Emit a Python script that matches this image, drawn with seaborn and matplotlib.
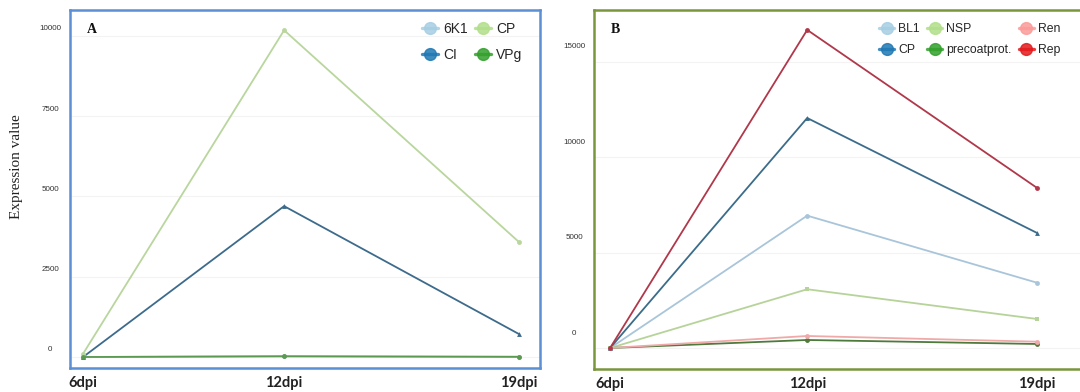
import matplotlib
matplotlib.use("Agg")
import matplotlib.pyplot as plt
import matplotlib.transforms as mtransforms
from matplotlib.lines import Line2D
import seaborn as sns
import pandas as pd

# Sampling days post inoculation
days = [6, 12, 19]
day_labels = ["6dpi", "12dpi", "19dpi"]

# Panel A: potyvirus proteins
a_6k1 = [0, 30, 10]
a_ci = [0, 4700, 720]
a_cp = [100, 10180, 3590]
a_vpg = [0, 20, 5]

# Panel B: geminivirus / satellite proteins
b_bl1 = [0, 6940, 3420]
b_cp = [0, 12060, 6030]
b_nsp = [0, 3080, 1520]
b_precoat = [0, 420, 210]
b_ren = [0, 630, 330]
b_rep = [0, 16680, 8390]

a_series = {"6K1": a_6k1, "CI": a_ci, "CP": a_cp, "VPg": a_vpg}
b_series = {"BL1": b_bl1, "CP": b_cp, "NSP": b_nsp,
            "precoatprot.": b_precoat, "Ren": b_ren, "Rep": b_rep}


def to_long(series):
    rows = []
    for name, vals in series.items():
        for d, v in zip(days, vals):
            rows.append({"day": d, "value": v, "protein": name})
    return pd.DataFrame(rows)


sns.set_theme(style="white")
plt.rcParams["font.family"] = ["Liberation Sans", "DejaVu Sans"]

# line colours as drawn, legend colours (Paired palette) for the keys
line_a = {"6K1": "#a9c9dc", "CI": "#3d6b8c", "CP": "#b9d69e", "VPg": "#5c9a52"}
key_a = {"6K1": "#a6cee3", "CI": "#1f78b4", "CP": "#b2df8a", "VPg": "#33a02c"}
mk_a = {"6K1": "o", "CI": "^", "CP": "o", "VPg": "o"}

line_b = {"BL1": "#a9c5da", "CP": "#3b6c8b", "NSP": "#b6d39a",
          "precoatprot.": "#4e7a3c", "Ren": "#f0a9a9", "Rep": "#b0384a"}
key_b = {"BL1": "#a6cee3", "CP": "#1f78b4", "NSP": "#b2df8a",
         "precoatprot.": "#33a02c", "Ren": "#fb9a99", "Rep": "#e31a1c"}
mk_b = {"BL1": "o", "CP": "^", "NSP": "s", "precoatprot.": "o",
        "Ren": "o", "Rep": "o"}

fig = plt.figure(figsize=(10.8, 3.92), dpi=100)
ax_a = fig.add_axes([0.0648, 0.0612, 0.435, 0.9133])
ax_b = fig.add_axes([0.550, 0.0587, 0.452, 0.9158])


def draw(ax, series, line_cols, key_cols, markers, order, border, ylim,
         xlim, yticks, label_shift_pt, legend_kw, tag):
    df = to_long(series)
    sns.lineplot(data=df, x="day", y="value", hue="protein",
                 palette=line_cols, hue_order=list(series.keys()),
                 style="protein", markers=markers, dashes=False,
                 markersize=3.5, linewidth=1.3, legend=False, ax=ax,
                 markeredgewidth=0)
    ax.set_xlim(*xlim)
    ax.set_ylim(*ylim)
    ax.set_xticks(days)
    ax.set_xticklabels(day_labels, fontfamily=["Lato", "DejaVu Sans"],
                       fontweight="bold", fontsize=10.5, color="#222222")
    ax.set_yticks(yticks)
    ax.set_yticklabels([str(t) for t in yticks], fontsize=5.8,
                       color="#333333", ha="center")
    ax.tick_params(axis="y", length=0, pad=14.2)
    ax.tick_params(axis="x", length=0, pad=5.5)
    shift = mtransforms.ScaledTranslation(0, label_shift_pt / 72,
                                          fig.dpi_scale_trans)
    for lab in ax.get_yticklabels():
        lab.set_transform(lab.get_transform() + shift)
    ax.set_xlabel("")
    ax.set_ylabel("")
    ax.grid(True, axis="y", color="#f3f3f3", linewidth=0.8)
    for sp in ax.spines.values():
        sp.set_visible(True)
        sp.set_color(border)
        sp.set_linewidth(1.8)
    ax.text(0.035, 0.945, tag, transform=ax.transAxes,
            fontfamily=["Liberation Serif", "DejaVu Serif"],
            fontweight="bold", fontsize=10, ha="left", va="center",
            color="#111111")
    handles = [Line2D([0], [0], color=key_cols[n], marker="o",
                      markersize=8.5, markerfacecolor=key_cols[n],
                      markeredgecolor=key_cols[n], linewidth=2.4,
                      alpha=0.85)
               for n in order]
    ax.legend(handles, order, frameon=False, handlelength=1.2,
              handletextpad=0.35, **legend_kw)


draw(ax_a, a_series, line_a, key_a, mk_a,
     ["6K1", "CI", "CP", "VPg"], "#5b8fd6",
     (-343, 10810), (5.61, 19.63), [0, 2500, 5000, 7500, 10000], 5.8,
     dict(ncol=2, loc="upper right", bbox_to_anchor=(0.975, 0.982),
          fontsize=10, columnspacing=0.5, labelspacing=0.85,
          borderaxespad=0.0),
     "A")

draw(ax_b, b_series, line_b, key_b, mk_b,
     ["BL1", "CP", "NSP", "precoatprot.", "Ren", "Rep"], "#7a963c",
     (-1101, 17724), (5.51, 20.37), [0, 5000, 10000, 15000], 11.5,
     dict(ncol=3, loc="upper right", bbox_to_anchor=(0.965, 0.978),
          fontsize=8.8, columnspacing=0.6, labelspacing=0.75,
          borderaxespad=0.0),
     "B")

fig.text(17 / 1080, 1 - 167 / 392, "Expression value", rotation=90,
         ha="center", va="center", fontsize=11,
         fontfamily=["Liberation Serif", "DejaVu Serif"], color="#222222")

fig.savefig("out.png", dpi=100, facecolor="white")
